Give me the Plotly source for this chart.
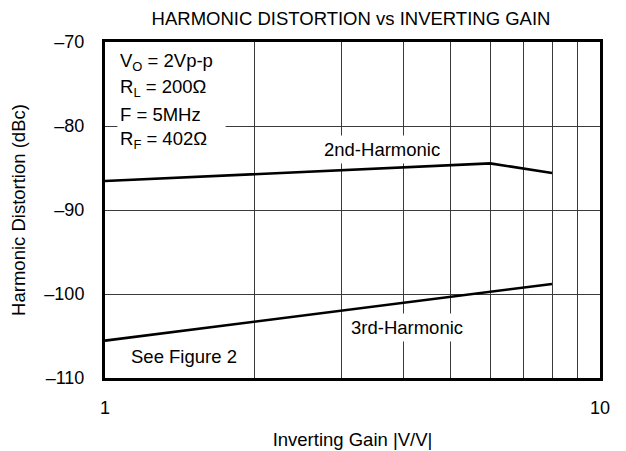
import plotly.graph_objects as go

gain_2nd = [1, 6, 8]
hd2 = [-86.55, -84.45, -85.6]
gain_3rd = [1, 6, 8]
hd3 = [-105.55, -99.75, -98.8]

x_ticks = [1, 2, 3, 4, 5, 6, 7, 8, 9, 10]
x_ticktext = ["1", "", "", "", "", "", "", "", "", "10"]
y_ticks = [-110, -100, -90, -80, -70]
y_ticktext = ["\u2013110", "\u2013100", "\u201390", "\u201380", "\u201370"]

cond_lines = ["V<sub>O</sub> = 2Vp-p", "R<sub>L</sub> = 200\u03a9", "F = 5MHz", "R<sub>F</sub> = 402\u03a9"]

FONT = "Liberation Sans, Arial, sans-serif"
FS = 18.5

# plot-area geometry in screen px (used only to place annotation text)
PL, PW, PT, PH = 105, 495, 42, 336

def px(x):
    return (x - PL) / PW

def py(y):
    return 1 - (y - PT) / PH

fig = go.Figure()
fig.add_trace(go.Scatter(x=gain_2nd, y=hd2, mode="lines", line=dict(color="black", width=2.6), showlegend=False))
fig.add_trace(go.Scatter(x=gain_3rd, y=hd3, mode="lines", line=dict(color="black", width=2.6), showlegend=False))

ann = []
centers = [62, 88, 114, 140]
for t, yc in zip(cond_lines, centers):
    ann.append(dict(text=t, xref="paper", yref="paper", x=px(117), y=py(yc),
                    xanchor="left", yanchor="middle", showarrow=False, align="left",
                    width=103, height=22, bgcolor="white", borderpad=2,
                    font=dict(family=FONT, size=FS, color="black")))

def lab(text, x, y):
    return dict(text=text, xref="paper", yref="paper", x=px(x), y=py(y),
                xanchor="center", yanchor="middle", showarrow=False, bgcolor="white", borderpad=3,
                font=dict(family=FONT, size=FS, color="black"))

ann.append(lab("2nd-Harmonic", 381.5, 149))
ann.append(lab("3rd-Harmonic", 406.5, 327))
ann.append(lab("See Figure 2", 184, 356))

fig.update_layout(
    width=626, height=451,
    margin=dict(l=97, r=34, t=34, b=81),
    paper_bgcolor="white", plot_bgcolor="white",
    font=dict(family=FONT, size=FS, color="black"),
    title=dict(text="HARMONIC DISTORTION vs INVERTING GAIN", x=(351 - 8) / 626, xanchor="center",
               y=1 - 11 / 451, yanchor="middle", yref="container", font=dict(size=FS)),
    annotations=ann,
)
fig.update_xaxes(type="log", range=[0, 1], tickvals=x_ticks, ticktext=x_ticktext,
                 showgrid=True, gridcolor="#3a3a3a", gridwidth=1,
                 showline=True, linecolor="black", linewidth=3, mirror=True,
                 ticks="outside", ticklen=11, tickcolor="rgba(0,0,0,0)",
                 tickfont=dict(size=18),
                 automargin=False,
                 title=dict(text="Inverting Gain |V/V|", standoff=17, font=dict(size=FS)),
                 zeroline=False)
fig.update_yaxes(range=[-110, -70], tickvals=y_ticks, ticktext=y_ticktext,
                 showgrid=True, gridcolor="#3a3a3a", gridwidth=1,
                 showline=True, linecolor="black", linewidth=3, mirror=True,
                 ticks="outside", ticklen=14, tickcolor="rgba(0,0,0,0)",
                 tickfont=dict(size=18),
                 automargin=False,
                 title=dict(text="Harmonic Distortion (dBc)", standoff=16, font=dict(size=FS)),
                 zeroline=False)

fig.write_html("out.html")
